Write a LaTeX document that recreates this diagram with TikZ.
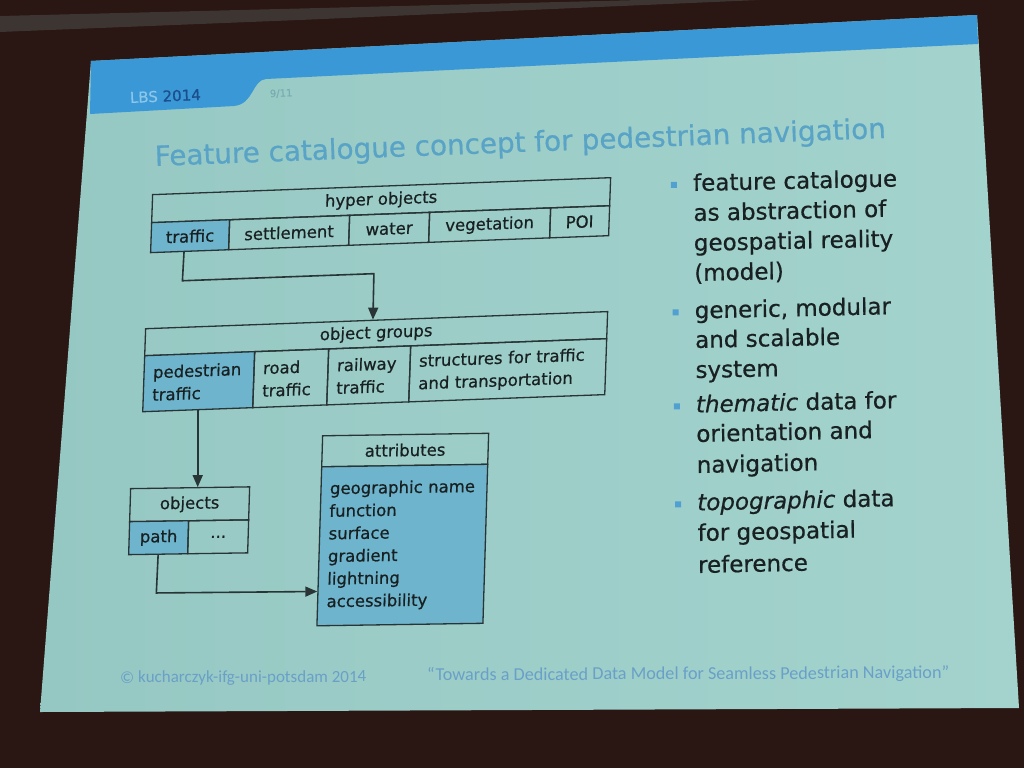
\documentclass[tikz,border=0pt]{standalone}
\usepackage{fontspec}
\setmainfont{DejaVu Sans}[FakeBold=0.6]
\newfontfamily\footfont{Carlito}
\usetikzlibrary{arrows.meta,calc}

\definecolor{bgdark}{RGB}{42,22,18}
\definecolor{rimgray}{RGB}{78,84,80}
\definecolor{slideL}{RGB}{150,200,195}
\definecolor{slideR}{RGB}{164,211,205}
\definecolor{band}{RGB}{58,152,214}
\definecolor{lbsc}{RGB}{140,198,232}
\definecolor{yearc}{RGB}{28,78,140}
\definecolor{pagec}{RGB}{120,172,178}
\definecolor{titlec}{RGB}{88,163,198}
\definecolor{hl}{RGB}{110,180,204}
\definecolor{linec}{RGB}{40,52,54}
\definecolor{txt}{RGB}{24,32,34}
\definecolor{bulc}{RGB}{80,160,210}
\definecolor{footc}{RGB}{105,160,200}

\newcommand\diafont{\fontsize{16.5pt}{22.6pt}\selectfont}
\newcommand\bulfont{\fontsize{23pt}{30pt}\selectfont}
\newcommand\ttlfont{\fontsize{27.8pt}{32pt}\selectfont}

\begin{document}
\begin{tikzpicture}[x=1pt,y=-1pt,
  cell/.style={draw=linec, line width=1.3pt, anchor=north west, inner sep=0pt,
    minimum height=30pt, font=\diafont, text=txt},
  hlcell/.style={fill=hl},
  gcell/.style={cell, align=left, minimum height=56pt, inner xsep=9pt},
  arr/.style={draw=linec, line width=1.6pt, -{Triangle[length=12pt,width=10pt]}},
  bl/.style={anchor=base west, inner sep=0pt, font=\bulfont, text=txt},
  sq/.style={fill=bulc, minimum size=6pt, inner sep=0pt},
  ttl/.style={anchor=base west, inner sep=0pt, text=titlec, font=\ttlfont},
  foot/.style={anchor=base west, inner sep=0pt, text=footc}]
\useasboundingbox (0,0) rectangle (1024,768);

% room around the screen
\fill[bgdark] (0,0) rectangle (1024,768);
\fill[rimgray, opacity=0.5] (0,16) -- (640,0) -- (760,0) -- (300,20) -- (0,32) -- cycle;

% projected slide
\shade[left color=slideL, right color=slideR] (91,61) -- (977,15) -- (1019,708) -- (40,712) -- cycle;

% header band with tab
\fill[band] (91,61) -- (977,15) -- (978,44) -- (266,79)
  .. controls (252,80) and (254,104) .. (234,106) -- (90,114) -- cycle;
\begin{scope}[shift={(130,103)}, rotate=2.4, transform shape]
  \node[anchor=base west, inner sep=0pt, font=\fontsize{15pt}{17pt}\selectfont] (lbs)
    at (0,0) {\textcolor{lbsc}{LBS} \textcolor{yearc}{2014}};
  \node[anchor=base west, inner sep=0pt, text=pagec, font=\fontsize{10pt}{12pt}\selectfont] (page)
    at (140,0) {9/11};
\end{scope}

% title, set on one baseline in two pieces
\begin{scope}[shift={(155,166)}, rotate=2.2, transform shape]
  \node[ttl] (title1) at (0,0) {Feature catalogue concept for};
  \node[ttl] (title2) at (title1.base east) {\hskip\fontdimen2\font pedestrian navigation};
\end{scope}

% hyper objects and object groups
\begin{scope}[shift={(152,194)}, cm={1,0.037,0.035,1,(0,0)}, transform shape]
  \node[cell, minimum width=458pt, minimum height=28pt] (hyh) at (0,0) {hyper objects};
  \node[cell, hlcell, minimum width=78pt] (traffic) at (0,28) {traffic};
  \node[cell, minimum width=120pt] (settle) at (78,28) {settlement};
  \node[cell, minimum width=80pt] (water) at (198,28) {water};
  \node[cell, minimum width=121pt] (veget) at (278,28) {vegetation};
  \node[cell, minimum width=59pt] (poi) at (399,28) {POI};

  \node[cell, minimum width=462pt, minimum height=27pt] (ogh) at (-2.3,134) {object groups};
  \node[gcell, hlcell, text width=92pt] (ped) at (-2.3,161) {pedestrian\\traffic};
  \node[gcell, text width=56pt] (road) at (107.7,161) {road\\traffic};
  \node[gcell, text width=64pt] (rail) at (181.7,161) {railway\\traffic};
  \node[gcell, text width=178pt] (struct) at (263.7,161) {structures for traffic\\and transportation};

  \coordinate (t1) at (33.5,88);
  \coordinate (t2) at (225,88);
  \draw[arr] ($(traffic.south west)!0.43!(traffic.south east)$) -- (t1) -- (t2)
    -- ($(ogh.north west)!0.492!(ogh.north east)$);
\end{scope}

% objects and attributes
\begin{scope}[shift={(130,488)}, cm={1,0.015,0.03,1,(0,0)}, transform shape]
  \node[cell, minimum width=119pt, minimum height=33pt] (objh) at (0,0) {objects};
  \node[cell, hlcell, minimum width=59pt, minimum height=33pt] (path) at (0,33) {path};
  \node[cell, minimum width=60pt, minimum height=33pt] (more) at (59,33) {...};

  \node[cell, minimum width=166pt, minimum height=31pt] (attrh) at (190.5,-50) {attributes};
  \node[cell, hlcell, align=left, text width=148pt, inner xsep=9pt, minimum height=159pt]
    (attrb) at (190.5,-19)
    {geographic name\\function\\surface\\gradient\\lightning\\accessibility};

  \coordinate (p1) at (29.5,105.4);
  \draw[arr] (path.south) -- (p1) -- ($(attrb.north west)!0.782!(attrb.south west)$);
\end{scope}

\draw[arr] (ped.south) -- (ped.south |- objh.north);

% bullet list
\begin{scope}[shift={(693,191)}, cm={1,0.022,-0.013,1,(0,0)}, transform shape]
  \node[sq] (s1) at (-19,-6.5) {};
  \node[bl] (l11) at (0,0) {feature catalogue};
  \node[bl] (l12) at (0,30) {as abstraction of};
  \node[bl] (l13) at (0,60) {geospatial reality};
  \node[bl] (l14) at (0,90) {(model)};
  \node[sq] (s2) at (-19,121) {};
  \node[bl] (l21) at (0,127.5) {generic, modular};
  \node[bl] (l22) at (0,157) {and scalable};
  \node[bl] (l23) at (0,187) {system};
  \node[sq] (s3) at (-19,215) {};
  \node[bl] (l31) at (0,221.5) {\itshape thematic\upshape{} data for};
  \node[bl] (l32) at (0,251) {orientation and};
  \node[bl] (l33) at (0,282) {navigation};
  \node[sq] (s4) at (-19,313) {};
  \node[bl] (l41) at (0,319.5) {\itshape topographic\upshape{} data};
  \node[bl] (l42) at (0,350) {for geospatial};
  \node[bl] (l43) at (0,382) {reference};
\end{scope}

% footer
\begin{scope}[shift={(120,683)}, rotate=0.25, transform shape]
  \node[foot, font=\footfont\fontsize{17pt}{19pt}\selectfont] (f1) at (0,0)
    {© kucharczyk-ifg-uni-potsdam 2014};
  \node[foot, font=\footfont\fontsize{18.2pt}{20pt}\selectfont] (f2) at (307,-1)
    {“Towards a Dedicated Data Model for Seamless Pedestrian Navigation”};
\end{scope}
\end{tikzpicture}
\end{document}
